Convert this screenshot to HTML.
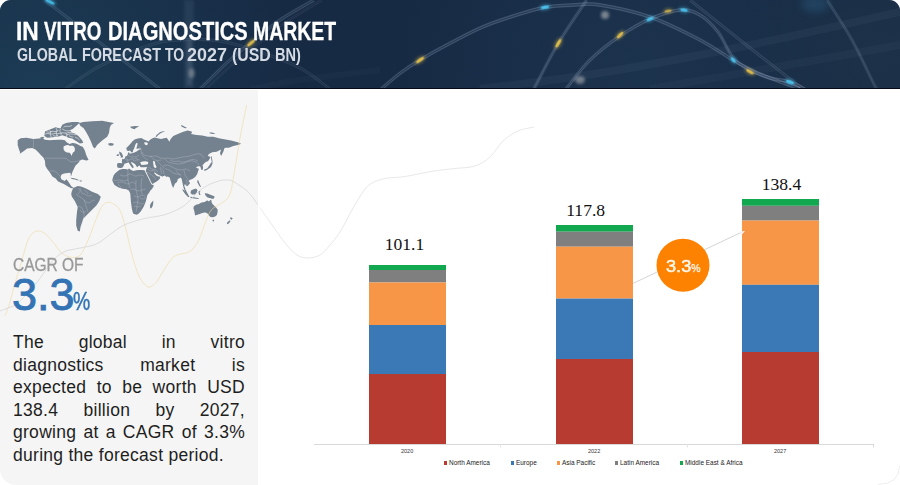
<!DOCTYPE html>
<html><head><meta charset="utf-8">
<style>
*{margin:0;padding:0;box-sizing:border-box}
html,body{width:900px;height:485px;overflow:hidden;background:#fff;font-family:"Liberation Sans",sans-serif}
.abs{position:absolute}
#hdr{position:absolute;left:0;top:0;width:900px;height:89px;border-radius:11px 11px 0 0;overflow:hidden;background:#172a44}
#hdr .bl{position:absolute;left:0;bottom:0;width:900px;height:1px;background:#040a17}
.w1{position:absolute;top:17.5px;font-weight:bold;font-size:26.7px;line-height:1;color:#fff;white-space:nowrap;transform-origin:0 0;-webkit-text-stroke:0.3px #fff}
.w2{position:absolute;top:46.8px;font-weight:bold;font-size:17.6px;line-height:1;color:#d5dbe4;white-space:nowrap;transform-origin:0 0}
#left{position:absolute;left:0;top:90px;width:258px;height:395px;background:#f5f5f5;border-bottom-left-radius:16px;overflow:hidden}
#cagr{position:absolute;left:13px;top:254px;font-size:19px;color:#999;-webkit-text-stroke:0.35px #999;white-space:nowrap;transform-origin:0 0;transform:scaleX(0.815)}
#big{position:absolute;left:12px;top:272px;font-size:45px;color:#3474b4;-webkit-text-stroke:0.9px #3474b4;white-space:nowrap;line-height:1}
#pct{position:absolute;left:73px;top:288.8px;font-size:25.5px;color:#3474b4;-webkit-text-stroke:0.5px #3474b4;line-height:1;transform-origin:0 0;transform:scaleX(0.76)}
#para{position:absolute;left:13px;top:331.1px;width:232px;font-size:17.5px;line-height:22.5px;color:#1e1e1e;letter-spacing:0.28px}
#para div{text-align:justify;text-align-last:justify;white-space:nowrap}
#para div.last{text-align:left;text-align-last:left}
.bar{position:absolute;width:77px}
.val{position:absolute;font-family:"Liberation Serif",serif;font-size:17.6px;color:#111;white-space:nowrap}
.cat{position:absolute;font-size:5.5px;color:#333;top:448px}
.leg{position:absolute;top:459px;font-size:6.45px;color:#222;white-space:nowrap}
.leg i{display:inline-block;width:3px;height:3.2px;margin-right:2px;vertical-align:0.5px}
</style></head><body>
<div id="hdr">
<svg class="abs" style="left:0;top:0" width="900" height="89" viewBox="0 0 900 89">
<defs>
<radialGradient id="g1" gradientUnits="userSpaceOnUse" cx="40" cy="95" r="260"><stop offset="0" stop-color="#1d3d56" stop-opacity="0.95"/><stop offset="1" stop-color="#1d3d56" stop-opacity="0"/></radialGradient><radialGradient id="g2" gradientUnits="userSpaceOnUse" cx="640" cy="70" r="240"><stop offset="0" stop-color="#213c58" stop-opacity="0.5"/><stop offset="1" stop-color="#213c58" stop-opacity="0"/></radialGradient><radialGradient id="g3" gradientUnits="userSpaceOnUse" cx="880" cy="50" r="140"><stop offset="0" stop-color="#1e3349" stop-opacity="0.9"/><stop offset="1" stop-color="#1e3349" stop-opacity="0"/></radialGradient>
<filter id="bl1" x="-1" y="-1" width="3" height="3"><feGaussianBlur stdDeviation="0.7"/></filter><filter id="bl2" x="-1" y="-1" width="3" height="3"><feGaussianBlur stdDeviation="1.5"/></filter><filter id="bl4" x="-1" y="-1" width="3" height="3"><feGaussianBlur stdDeviation="4"/></filter>
</defs>
<rect x="0" y="0" width="900" height="89" fill="url(#g1)"/><rect x="0" y="0" width="900" height="89" fill="url(#g2)"/><rect x="0" y="0" width="900" height="89" fill="url(#g3)"/>
<g fill="none">
<path d="M480.0 89.0 C500.0 86.3 555.0 80.3 600.0 73.0 C645.0 65.7 700.0 55.2 750.0 45.0 C800.0 34.8 875.0 17.5 900.0 12.0" stroke="#a9bdd8" stroke-opacity="0.05" stroke-width="8.0"/>
<path d="M650.0 89.0 C668.3 85.8 718.3 77.3 760.0 70.0 C801.7 62.7 876.7 49.2 900.0 45.0" stroke="#a9bdd8" stroke-opacity="0.04" stroke-width="8.0"/>
<path d="M250.0 89.0 C258.3 87.5 278.3 83.2 300.0 80.0 C321.7 76.8 366.7 71.7 380.0 70.0" stroke="#a9bdd8" stroke-opacity="0.03" stroke-width="6.0"/>
<path d="M44.5 0.0 C53.8 7.1 80.8 27.9 100.0 42.7 C119.2 57.5 150.0 81.3 160.0 89.0" stroke="#a9bdd8" stroke-opacity="0.08" stroke-width="3.6"/>
<path d="M44.5 0.0 C53.8 7.1 80.8 27.9 100.0 42.7 C119.2 57.5 150.0 81.3 160.0 89.0" stroke="#a9bdd8" stroke-opacity="0.22" stroke-width="0.6" transform="translate(0,-1.2)"/>
<path d="M44.5 0.0 C53.8 7.1 80.8 27.9 100.0 42.7 C119.2 57.5 150.0 81.3 160.0 89.0" stroke="#a9bdd8" stroke-opacity="0.22" stroke-width="0.6" transform="translate(0,1.2)"/>
<path d="M200.0 89.0 C205.0 84.2 221.3 67.8 230.0 60.0 C238.7 52.2 243.7 48.7 252.0 42.0 C260.3 35.3 269.7 27.0 280.0 20.0 C290.3 13.0 308.3 3.3 314.0 0.0" stroke="#a9bdd8" stroke-opacity="0.09" stroke-width="4.0"/>
<path d="M200.0 89.0 C205.0 84.2 221.3 67.8 230.0 60.0 C238.7 52.2 243.7 48.7 252.0 42.0 C260.3 35.3 269.7 27.0 280.0 20.0 C290.3 13.0 308.3 3.3 314.0 0.0" stroke="#a9bdd8" stroke-opacity="0.24" stroke-width="0.7" transform="translate(0,-1.2)"/>
<path d="M200.0 89.0 C205.0 84.2 221.3 67.8 230.0 60.0 C238.7 52.2 243.7 48.7 252.0 42.0 C260.3 35.3 269.7 27.0 280.0 20.0 C290.3 13.0 308.3 3.3 314.0 0.0" stroke="#a9bdd8" stroke-opacity="0.24" stroke-width="0.7" transform="translate(0,1.2)"/>
<path d="M206.0 89.0 C211.0 84.3 227.3 68.5 236.0 61.0 C244.7 53.5 249.7 50.5 258.0 44.0 C266.3 37.5 275.3 29.3 286.0 22.0 C296.7 14.7 316.0 3.7 322.0 0.0" stroke="#a9bdd8" stroke-opacity="0.04" stroke-width="2.8"/>
<path d="M206.0 89.0 C211.0 84.3 227.3 68.5 236.0 61.0 C244.7 53.5 249.7 50.5 258.0 44.0 C266.3 37.5 275.3 29.3 286.0 22.0 C296.7 14.7 316.0 3.7 322.0 0.0" stroke="#a9bdd8" stroke-opacity="0.12" stroke-width="0.5" transform="translate(0,-1.2)"/>
<path d="M206.0 89.0 C211.0 84.3 227.3 68.5 236.0 61.0 C244.7 53.5 249.7 50.5 258.0 44.0 C266.3 37.5 275.3 29.3 286.0 22.0 C296.7 14.7 316.0 3.7 322.0 0.0" stroke="#a9bdd8" stroke-opacity="0.12" stroke-width="0.5" transform="translate(0,1.2)"/>
<path d="M65.0 89.0 C70.8 85.2 85.8 73.3 100.0 66.0 C114.2 58.7 136.7 49.3 150.0 45.0 C163.3 40.7 168.3 40.7 180.0 40.0 C191.7 39.3 206.7 39.0 220.0 41.0 C233.3 43.0 246.7 47.5 260.0 52.0 C273.3 56.5 288.3 61.8 300.0 68.0 C311.7 74.2 325.0 85.5 330.0 89.0" stroke="#a9bdd8" stroke-opacity="0.05" stroke-width="3.2"/>
<path d="M65.0 89.0 C70.8 85.2 85.8 73.3 100.0 66.0 C114.2 58.7 136.7 49.3 150.0 45.0 C163.3 40.7 168.3 40.7 180.0 40.0 C191.7 39.3 206.7 39.0 220.0 41.0 C233.3 43.0 246.7 47.5 260.0 52.0 C273.3 56.5 288.3 61.8 300.0 68.0 C311.7 74.2 325.0 85.5 330.0 89.0" stroke="#a9bdd8" stroke-opacity="0.14" stroke-width="0.6" transform="translate(0,-1.2)"/>
<path d="M65.0 89.0 C70.8 85.2 85.8 73.3 100.0 66.0 C114.2 58.7 136.7 49.3 150.0 45.0 C163.3 40.7 168.3 40.7 180.0 40.0 C191.7 39.3 206.7 39.0 220.0 41.0 C233.3 43.0 246.7 47.5 260.0 52.0 C273.3 56.5 288.3 61.8 300.0 68.0 C311.7 74.2 325.0 85.5 330.0 89.0" stroke="#a9bdd8" stroke-opacity="0.14" stroke-width="0.6" transform="translate(0,1.2)"/>
<path d="M380.0 90.0 C383.3 87.2 393.3 78.3 400.0 73.3 C406.7 68.3 411.7 65.0 420.0 60.0 C428.3 55.0 439.4 48.8 450.0 43.3 C460.6 37.8 472.2 31.4 483.3 26.7 C494.4 22.0 506.4 18.2 516.7 15.0 C527.0 11.8 535.6 9.0 545.0 7.3 C554.4 5.6 564.1 5.4 573.3 5.0 C582.5 4.6 587.2 3.0 600.0 5.0 C612.8 7.0 633.3 11.2 650.0 17.0 C666.7 22.8 686.2 32.8 700.0 40.0 C713.8 47.2 723.0 54.3 733.0 60.0 C743.0 65.7 748.8 69.2 760.0 74.0 C771.2 78.8 793.3 86.5 800.0 89.0" stroke="#a9bdd8" stroke-opacity="0.11" stroke-width="4.0"/>
<path d="M380.0 90.0 C383.3 87.2 393.3 78.3 400.0 73.3 C406.7 68.3 411.7 65.0 420.0 60.0 C428.3 55.0 439.4 48.8 450.0 43.3 C460.6 37.8 472.2 31.4 483.3 26.7 C494.4 22.0 506.4 18.2 516.7 15.0 C527.0 11.8 535.6 9.0 545.0 7.3 C554.4 5.6 564.1 5.4 573.3 5.0 C582.5 4.6 587.2 3.0 600.0 5.0 C612.8 7.0 633.3 11.2 650.0 17.0 C666.7 22.8 686.2 32.8 700.0 40.0 C713.8 47.2 723.0 54.3 733.0 60.0 C743.0 65.7 748.8 69.2 760.0 74.0 C771.2 78.8 793.3 86.5 800.0 89.0" stroke="#a9bdd8" stroke-opacity="0.30" stroke-width="0.7" transform="translate(0,-1.2)"/>
<path d="M380.0 90.0 C383.3 87.2 393.3 78.3 400.0 73.3 C406.7 68.3 411.7 65.0 420.0 60.0 C428.3 55.0 439.4 48.8 450.0 43.3 C460.6 37.8 472.2 31.4 483.3 26.7 C494.4 22.0 506.4 18.2 516.7 15.0 C527.0 11.8 535.6 9.0 545.0 7.3 C554.4 5.6 564.1 5.4 573.3 5.0 C582.5 4.6 587.2 3.0 600.0 5.0 C612.8 7.0 633.3 11.2 650.0 17.0 C666.7 22.8 686.2 32.8 700.0 40.0 C713.8 47.2 723.0 54.3 733.0 60.0 C743.0 65.7 748.8 69.2 760.0 74.0 C771.2 78.8 793.3 86.5 800.0 89.0" stroke="#a9bdd8" stroke-opacity="0.30" stroke-width="0.7" transform="translate(0,1.2)"/>
<path d="M533.3 90.0 C537.5 82.2 549.4 58.3 558.3 43.3 C567.2 28.3 582.0 7.2 586.7 0.0" stroke="#a9bdd8" stroke-opacity="0.10" stroke-width="4.0"/>
<path d="M533.3 90.0 C537.5 82.2 549.4 58.3 558.3 43.3 C567.2 28.3 582.0 7.2 586.7 0.0" stroke="#a9bdd8" stroke-opacity="0.28" stroke-width="0.7" transform="translate(0,-1.2)"/>
<path d="M533.3 90.0 C537.5 82.2 549.4 58.3 558.3 43.3 C567.2 28.3 582.0 7.2 586.7 0.0" stroke="#a9bdd8" stroke-opacity="0.28" stroke-width="0.7" transform="translate(0,1.2)"/>
<path d="M566.0 89.0 C570.0 84.2 581.0 68.8 590.0 60.0 C599.0 51.2 610.0 42.8 620.0 36.0 C630.0 29.2 640.0 23.3 650.0 19.0 C660.0 14.7 671.7 10.7 680.0 10.0 C688.3 9.3 693.7 11.3 700.0 15.0 C706.3 18.7 712.5 24.8 718.0 32.0 C723.5 39.2 728.0 51.7 733.3 58.0 C738.6 64.3 743.9 66.7 750.0 70.0 C756.1 73.3 763.3 76.0 770.0 78.0 C776.7 80.0 784.2 80.2 790.0 82.0 C795.8 83.8 802.5 87.8 805.0 89.0" stroke="#a9bdd8" stroke-opacity="0.11" stroke-width="4.0"/>
<path d="M566.0 89.0 C570.0 84.2 581.0 68.8 590.0 60.0 C599.0 51.2 610.0 42.8 620.0 36.0 C630.0 29.2 640.0 23.3 650.0 19.0 C660.0 14.7 671.7 10.7 680.0 10.0 C688.3 9.3 693.7 11.3 700.0 15.0 C706.3 18.7 712.5 24.8 718.0 32.0 C723.5 39.2 728.0 51.7 733.3 58.0 C738.6 64.3 743.9 66.7 750.0 70.0 C756.1 73.3 763.3 76.0 770.0 78.0 C776.7 80.0 784.2 80.2 790.0 82.0 C795.8 83.8 802.5 87.8 805.0 89.0" stroke="#a9bdd8" stroke-opacity="0.30" stroke-width="0.7" transform="translate(0,-1.2)"/>
<path d="M566.0 89.0 C570.0 84.2 581.0 68.8 590.0 60.0 C599.0 51.2 610.0 42.8 620.0 36.0 C630.0 29.2 640.0 23.3 650.0 19.0 C660.0 14.7 671.7 10.7 680.0 10.0 C688.3 9.3 693.7 11.3 700.0 15.0 C706.3 18.7 712.5 24.8 718.0 32.0 C723.5 39.2 728.0 51.7 733.3 58.0 C738.6 64.3 743.9 66.7 750.0 70.0 C756.1 73.3 763.3 76.0 770.0 78.0 C776.7 80.0 784.2 80.2 790.0 82.0 C795.8 83.8 802.5 87.8 805.0 89.0" stroke="#a9bdd8" stroke-opacity="0.30" stroke-width="0.7" transform="translate(0,1.2)"/>
<path d="M690.0 0.0 C698.3 6.7 721.7 25.5 740.0 40.0 C758.3 54.5 789.5 78.5 800.0 86.7 C810.5 94.9 802.5 88.6 803.0 89.0" stroke="#a9bdd8" stroke-opacity="0.07" stroke-width="3.6"/>
<path d="M690.0 0.0 C698.3 6.7 721.7 25.5 740.0 40.0 C758.3 54.5 789.5 78.5 800.0 86.7 C810.5 94.9 802.5 88.6 803.0 89.0" stroke="#a9bdd8" stroke-opacity="0.20" stroke-width="0.6" transform="translate(0,-1.2)"/>
<path d="M690.0 0.0 C698.3 6.7 721.7 25.5 740.0 40.0 C758.3 54.5 789.5 78.5 800.0 86.7 C810.5 94.9 802.5 88.6 803.0 89.0" stroke="#a9bdd8" stroke-opacity="0.20" stroke-width="0.6" transform="translate(0,1.2)"/>
<path d="M827.0 0.0 C831.2 6.7 844.2 26.1 852.0 40.0 C859.8 53.9 869.3 75.1 873.5 83.3 C877.7 91.5 876.4 88.0 877.0 89.0" stroke="#a9bdd8" stroke-opacity="0.09" stroke-width="3.6"/>
<path d="M827.0 0.0 C831.2 6.7 844.2 26.1 852.0 40.0 C859.8 53.9 869.3 75.1 873.5 83.3 C877.7 91.5 876.4 88.0 877.0 89.0" stroke="#a9bdd8" stroke-opacity="0.24" stroke-width="0.6" transform="translate(0,-1.2)"/>
<path d="M827.0 0.0 C831.2 6.7 844.2 26.1 852.0 40.0 C859.8 53.9 869.3 75.1 873.5 83.3 C877.7 91.5 876.4 88.0 877.0 89.0" stroke="#a9bdd8" stroke-opacity="0.24" stroke-width="0.6" transform="translate(0,1.2)"/>
<ellipse cx="50.0" cy="1.7" rx="7.0" ry="3" fill="#48c8f4" opacity="0.36" transform="rotate(25 50.0 1.7)" filter="url(#bl2)"/>
<ellipse cx="50.0" cy="1.7" rx="5.0" ry="1.5" fill="#48c8f4" opacity="0.80" transform="rotate(25 50.0 1.7)" filter="url(#bl1)"/>
<ellipse cx="251.0" cy="43.0" rx="6.5" ry="3" fill="#f0c848" opacity="0.36" transform="rotate(-40 251.0 43.0)" filter="url(#bl2)"/>
<ellipse cx="251.0" cy="43.0" rx="4.5" ry="1.5" fill="#f0c848" opacity="0.80" transform="rotate(-40 251.0 43.0)" filter="url(#bl1)"/>
<ellipse cx="420.0" cy="60.0" rx="6.5" ry="3" fill="#f0c848" opacity="0.38" transform="rotate(-35 420.0 60.0)" filter="url(#bl2)"/>
<ellipse cx="420.0" cy="60.0" rx="4.5" ry="1.5" fill="#f0c848" opacity="0.85" transform="rotate(-35 420.0 60.0)" filter="url(#bl1)"/>
<ellipse cx="545.0" cy="7.3" rx="6.0" ry="3" fill="#48c8f4" opacity="0.41" transform="rotate(-10 545.0 7.3)" filter="url(#bl2)"/>
<ellipse cx="545.0" cy="7.3" rx="4.0" ry="1.5" fill="#48c8f4" opacity="0.90" transform="rotate(-10 545.0 7.3)" filter="url(#bl1)"/>
<ellipse cx="558.3" cy="43.3" rx="6.5" ry="3" fill="#f0c848" opacity="0.38" transform="rotate(-60 558.3 43.3)" filter="url(#bl2)"/>
<ellipse cx="558.3" cy="43.3" rx="4.5" ry="1.5" fill="#f0c848" opacity="0.85" transform="rotate(-60 558.3 43.3)" filter="url(#bl1)"/>
<ellipse cx="620.0" cy="35.0" rx="6.0" ry="3" fill="#f0c848" opacity="0.38" transform="rotate(-45 620.0 35.0)" filter="url(#bl2)"/>
<ellipse cx="620.0" cy="35.0" rx="4.0" ry="1.5" fill="#f0c848" opacity="0.85" transform="rotate(-45 620.0 35.0)" filter="url(#bl1)"/>
<ellipse cx="650.0" cy="19.0" rx="5.5" ry="3" fill="#48c8f4" opacity="0.38" transform="rotate(-25 650.0 19.0)" filter="url(#bl2)"/>
<ellipse cx="650.0" cy="19.0" rx="3.5" ry="1.5" fill="#48c8f4" opacity="0.85" transform="rotate(-25 650.0 19.0)" filter="url(#bl1)"/>
<ellipse cx="684.0" cy="10.0" rx="5.5" ry="3" fill="#48c8f4" opacity="0.38" transform="rotate(10 684.0 10.0)" filter="url(#bl2)"/>
<ellipse cx="684.0" cy="10.0" rx="3.5" ry="1.5" fill="#48c8f4" opacity="0.85" transform="rotate(10 684.0 10.0)" filter="url(#bl1)"/>
<ellipse cx="668.0" cy="11.0" rx="5.5" ry="3" fill="#f0c848" opacity="0.27" transform="rotate(-10 668.0 11.0)" filter="url(#bl2)"/>
<ellipse cx="668.0" cy="11.0" rx="3.5" ry="1.5" fill="#f0c848" opacity="0.60" transform="rotate(-10 668.0 11.0)" filter="url(#bl1)"/>
<ellipse cx="733.3" cy="60.0" rx="5.0" ry="3" fill="#48c8f4" opacity="0.38" transform="rotate(50 733.3 60.0)" filter="url(#bl2)"/>
<ellipse cx="733.3" cy="60.0" rx="3.0" ry="1.5" fill="#48c8f4" opacity="0.85" transform="rotate(50 733.3 60.0)" filter="url(#bl1)"/>
<ellipse cx="750.0" cy="71.7" rx="6.0" ry="3" fill="#f0c848" opacity="0.36" transform="rotate(30 750.0 71.7)" filter="url(#bl2)"/>
<ellipse cx="750.0" cy="71.7" rx="4.0" ry="1.5" fill="#f0c848" opacity="0.80" transform="rotate(30 750.0 71.7)" filter="url(#bl1)"/>
<ellipse cx="790.0" cy="82.0" rx="6.0" ry="3" fill="#48c8f4" opacity="0.41" transform="rotate(20 790.0 82.0)" filter="url(#bl2)"/>
<ellipse cx="790.0" cy="82.0" rx="4.0" ry="1.5" fill="#48c8f4" opacity="0.90" transform="rotate(20 790.0 82.0)" filter="url(#bl1)"/>
<ellipse cx="605" cy="15" rx="4" ry="4" fill="#eae6e0" opacity="0.45" filter="url(#bl2)"/>
<ellipse cx="580" cy="80" rx="5" ry="4" fill="#eae6e0" opacity="0.4" filter="url(#bl2)"/>
<ellipse cx="191.7" cy="73.3" rx="3" ry="5" fill="#dcdcd0" opacity="0.35" filter="url(#bl2)"/>
<rect x="184" y="0" width="10" height="89" fill="#9ab0c8" opacity="0.10" filter="url(#bl2)"/>
<rect x="187" y="40" width="5" height="45" fill="#c0ccd8" opacity="0.12" filter="url(#bl2)"/>
<ellipse cx="815" cy="4" rx="14" ry="8" fill="#3a90c0" opacity="0.22" filter="url(#bl4)"/>
</g>
</svg>
<div class="bl"></div>
<span class="w1" style="left:16.10px;transform:scaleX(0.852)">IN</span><span class="w1" style="left:44.00px;transform:scaleX(0.705)">VITRO</span><span class="w1" style="left:107.70px;transform:scaleX(0.754)">DIAGNOSTICS</span><span class="w1" style="left:253.20px;transform:scaleX(0.729)">MARKET</span>
<span class="w2" style="left:17.30px;transform:scaleX(0.810)">GLOBAL</span><span class="w2" style="left:82.20px;transform:scaleX(0.816)">FORECAST</span><span class="w2" style="left:164.60px;transform:scaleX(0.790)">TO</span><span class="w2" style="left:187.40px;transform:scaleX(1.020)">2027</span><span class="w2" style="left:231.50px;transform:scaleX(0.902)">(USD</span><span class="w2" style="left:274.90px;transform:scaleX(0.830)">BN)</span>
</div>
<div id="left">
<svg class="abs" style="left:0;top:-90px" width="258" height="485" viewBox="0 0 258 485">
<path d="M17.7 140.3 L20.6 138.2 L26.4 137.8 L33.4 139.0 L38.8 138.6 L42.9 138.3 L45.0 139.7 L49.9 140.3 L56.1 139.7 L61.0 139.3 L64.8 140.3 L67.2 142.8 L69.7 144.0 L72.2 143.0 L75.0 143.2 L78.0 144.6 L80.5 146.0 L82.6 146.8 L83.8 148.5 L85.0 151.0 L86.2 155.0 L88.6 159.9 L86.0 160.5 L84.5 159.9 L82.0 159.5 L80.0 160.5 L78.7 162.4 L75.4 165.7 L73.8 169.0 L72.6 171.4 L71.3 175.6 L70.9 176.4 L70.5 172.7 L68.0 173.1 L63.9 173.5 L61.4 174.7 L60.6 177.2 L61.4 179.3 L64.7 180.9 L66.4 179.3 L68.0 181.3 L69.7 183.8 L71.3 186.3 L73.8 187.9 L71.3 188.2 L68.0 186.6 L63.9 184.0 L58.1 181.5 L55.7 178.6 L52.4 176.6 L49.9 172.5 L47.4 169.2 L45.4 165.9 L44.9 160.7 L43.3 157.4 L41.2 155.5 L38.8 152.7 L35.5 149.4 L32.2 148.1 L27.2 148.5 L23.9 151.0 L21.0 153.0 L19.5 153.8 L20.2 152.5 L19.0 149.4 L17.7 145.2ZM79.0 123.3 L83.0 122.0 L92.4 121.3 L102.2 120.7 L108.4 121.9 L114.0 123.1 L110.9 125.0 L109.7 128.1 L109.0 133.0 L107.2 136.7 L102.2 140.4 L97.3 144.8 L94.8 148.5 L93.1 146.9 L90.6 140.7 L88.2 135.8 L85.8 131.5 L83.5 128.0 L80.5 126.0ZM108.2 143.6 L111.0 142.9 L114.0 143.8 L113.0 145.6 L110.0 145.8 L108.6 145.0ZM73.3 188.1 L77.7 185.9 L81.0 186.5 L84.9 188.1 L88.5 189.8 L92.1 191.7 L97.9 193.9 L100.8 196.8 L99.3 201.1 L96.4 205.4 L92.1 209.8 L87.8 214.1 L83.4 218.4 L82.0 222.8 L80.5 227.1 L79.8 231.4 L77.7 230.7 L76.2 225.6 L76.2 219.9 L76.9 212.7 L77.7 206.9 L74.8 201.1 L71.9 196.8 L71.2 193.9 L71.9 191.0ZM70.2 177.8 L73.0 177.9 L76.0 178.7 L79.0 180.0 L78.0 180.6 L75.0 179.6 L72.0 179.0ZM79.5 180.5 L82.0 180.6 L81.5 181.6 L79.8 181.4ZM126.3 147.9 L127.4 146.9 L130.5 143.8 L132.5 141.2 L134.6 139.4 L137.7 138.4 L141.3 138.1 L143.9 139.6 L147.0 140.7 L148.5 141.5 L149.8 139.9 L152.0 138.5 L154.7 137.4 L157.5 138.2 L161.1 138.9 L164.0 138.2 L166.7 137.8 L168.3 140.0 L169.4 141.7 L170.6 138.9 L173.3 136.1 L177.8 133.9 L183.3 131.7 L187.8 130.6 L192.2 131.7 L191.1 133.9 L196.7 135.0 L202.2 135.6 L207.8 136.7 L213.3 136.7 L218.9 138.3 L225.6 139.4 L231.1 140.6 L237.8 142.2 L241.1 143.7 L239.5 144.5 L237.8 145.0 L233.3 146.1 L228.9 147.8 L225.6 147.8 L224.4 148.3 L223.3 151.7 L221.1 156.1 L220.0 153.3 L221.1 149.4 L216.7 151.7 L212.2 152.2 L208.9 153.9 L207.8 156.1 L209.6 156.5 L210.5 157.6 L208.2 160.9 L205.4 162.3 L202.6 165.0 L203.1 167.8 L202.6 170.1 L201.2 169.7 L200.5 167.0 L199.8 166.2 L197.1 166.6 L196.1 167.8 L198.9 168.8 L198.0 171.5 L197.1 174.3 L195.2 177.1 L192.4 179.0 L189.6 179.9 L188.7 181.3 L190.2 183.1 L188.5 185.0 L187.3 186.3 L185.8 185.5 L185.0 184.0 L184.2 185.5 L185.5 189.5 L187.3 193.0 L188.6 195.2 L187.6 195.4 L185.5 192.0 L183.8 188.5 L183.0 185.5 L182.3 182.0 L181.6 178.8 L180.5 177.6 L179.4 178.2 L177.9 178.9 L177.0 181.9 L175.0 183.5 L173.2 188.1 L171.8 185.0 L170.6 180.8 L169.6 177.6 L167.8 176.4 L166.5 177.0 L164.9 175.5 L162.5 176.6 L161.5 176.3 L160.0 175.6 L158.5 174.9 L157.0 173.9 L155.5 172.9 L154.2 172.2 L154.5 173.6 L155.8 174.9 L157.0 175.9 L158.5 176.6 L159.8 176.6 L160.2 177.8 L159.2 179.5 L157.0 181.2 L154.5 182.8 L152.4 184.0 L151.2 182.3 L150.0 179.6 L148.6 176.8 L147.4 174.2 L146.5 172.2 L145.8 171.3 L146.2 169.5 L146.8 167.8 L147.3 167.0 L144.0 167.3 L140.7 167.3 L140.1 166.4 L139.6 165.5 L138.4 166.0 L137.3 167.2 L136.2 166.0 L135.4 164.5 L134.2 163.5 L131.0 161.8 L131.5 163.5 L133.0 165.5 L133.8 167.2 L132.6 168.2 L131.2 166.5 L129.8 164.5 L128.8 162.5 L127.5 162.8 L126.2 163.2 L124.6 163.4 L124.2 164.6 L123.2 166.5 L122.6 167.6 L121.0 167.9 L119.6 167.9 L117.5 167.6 L117.1 166.0 L117.1 164.5 L117.4 163.2 L119.5 163.0 L122.3 163.2 L121.8 161.4 L122.3 158.7 L123.6 159.3 L124.8 158.2 L125.3 156.6 L126.4 156.2 L127.6 155.0 L127.9 153.5 L128.3 152.2 L129.2 152.4 L129.4 153.6 L131.0 153.4 L133.0 153.0 L135.0 152.3 L136.6 151.5 L138.2 150.3 L139.7 149.4 L141.8 148.9 L139.7 148.6 L138.0 148.5 L136.6 148.9 L136.6 147.4 L137.2 145.8 L137.7 143.5 L137.0 142.8 L136.0 143.6 L135.1 145.3 L134.1 148.4 L133.0 150.5 L132.8 152.3 L131.5 152.5 L130.0 150.5 L128.4 151.0 L126.9 150.5ZM119.1 151.5 L121.2 152.5 L122.2 154.0 L122.7 155.6 L123.2 157.2 L121.8 157.6 L120.7 157.7 L120.9 156.3 L119.6 154.6 L119.3 153.0ZM117.1 154.6 L118.6 154.1 L118.8 155.2 L118.6 156.1 L116.8 156.1 L116.6 155.3ZM112.9 177.4 L113.8 175.0 L115.5 173.0 L117.3 171.4 L119.6 169.8 L122.3 168.9 L125.1 168.9 L127.9 169.4 L129.0 168.4 L130.7 169.8 L133.4 170.9 L136.2 170.3 L139.0 169.9 L142.9 169.9 L144.8 170.4 L145.5 172.5 L146.8 175.0 L148.0 177.3 L149.3 180.0 L150.5 182.5 L151.6 184.5 L153.8 185.3 L153.3 187.0 L151.5 189.5 L150.4 190.5 L149.0 193.0 L147.5 194.8 L146.8 197.5 L146.1 200.5 L145.0 203.5 L143.9 206.3 L142.0 209.5 L140.3 212.1 L138.5 213.8 L136.7 214.7 L135.0 214.3 L133.1 213.5 L132.3 210.5 L131.7 207.8 L131.3 204.5 L130.9 202.0 L130.6 197.5 L130.2 193.3 L128.8 190.4 L126.5 189.3 L124.4 189.0 L121.5 188.5 L118.7 187.5 L116.5 186.3 L114.3 184.7 L113.2 182.5 L112.2 180.3ZM151.9 202.0 L153.3 200.5 L153.2 203.5 L152.6 206.3 L151.5 208.0 L150.4 208.5 L150.0 206.5 L150.1 204.9 L150.8 203.5ZM182.3 188.9 L184.5 190.5 L187.5 194.0 L189.5 196.8 L188.3 197.2 L185.5 194.5 L183.0 191.0ZM190.2 196.8 L194.0 197.3 L198.9 198.3 L198.5 199.0 L194.0 198.5 L190.5 197.8ZM191.0 190.5 L193.0 189.5 L196.0 188.5 L197.5 190.0 L196.7 192.5 L195.0 194.5 L192.0 194.5 L190.5 193.0ZM198.5 191.0 L200.5 190.8 L199.6 192.5 L200.6 194.8 L199.2 195.0 L198.6 193.0ZM197.4 180.2 L198.5 181.0 L199.5 183.5 L201.0 186.7 L200.0 187.0 L198.5 184.5 L197.2 182.0ZM204.7 193.2 L207.5 193.4 L210.4 194.7 L213.0 195.8 L214.8 196.8 L213.3 199.0 L210.5 198.2 L207.5 197.5 L205.5 195.5ZM212.8 162.7 L211.0 166.9 L207.3 169.7 L204.5 171.1 L204.0 169.7 L207.3 168.3 L209.6 165.0 L211.4 162.3ZM210.8 155.8 L211.8 157.0 L212.6 162.0 L211.9 162.5 L211.2 159.0ZM197.8 180.2 L198.6 180.8 L198.0 182.0ZM193.8 206.2 L196.0 204.8 L198.9 204.0 L201.5 202.5 L204.7 201.9 L206.5 200.8 L207.5 200.4 L209.0 201.5 L210.0 200.2 L211.2 199.7 L211.9 203.3 L213.5 205.0 L214.8 206.2 L216.5 208.0 L217.7 209.8 L217.6 212.0 L216.9 214.9 L215.5 216.3 L214.0 217.0 L212.0 217.2 L210.4 217.0 L208.6 215.0 L207.5 213.4 L205.5 212.6 L203.2 212.7 L201.0 213.5 L198.9 214.2 L196.5 215.0 L195.3 215.6 L194.8 214.0 L194.5 212.0 L194.0 210.0 L193.4 208.4ZM212.5 219.8 L214.2 219.8 L213.8 221.5 L212.8 221.5ZM230.6 217.0 L232.8 218.5 L231.5 219.8 L230.2 219.0ZM229.9 220.3 L230.5 221.2 L228.5 223.8 L227.2 224.3 L227.0 222.8 L228.5 221.3ZM130.0 126.8 L135.0 126.0 L139.3 126.2 L136.0 128.0 L134.4 129.3 L131.5 128.2ZM155.6 136.7 L156.5 135.0 L157.8 133.9 L159.5 132.5 L161.1 131.7 L165.0 131.1 L163.5 132.0 L161.5 132.8 L159.5 134.0 L157.5 135.8 L156.5 137.0ZM180.9 125.0 L183.0 125.7 L187.1 128.1 L185.0 128.3 L181.5 126.5ZM209.4 132.4 L212.0 132.6 L215.6 133.6 L213.0 134.0 L210.0 133.5ZM44.3 136.0 L45.0 131.6 L49.3 129.8 L55.5 127.3 L60.4 128.5 L62.3 124.8 L66.0 123.0 L72.2 122.0 L77.5 122.0 L79.8 122.5 L77.5 124.8 L74.7 127.3 L72.8 129.1 L70.0 130.5 L72.0 132.5 L74.7 133.5 L78.4 136.0 L82.1 140.3 L83.3 142.8 L80.0 143.4 L75.9 140.9 L72.2 138.4 L68.5 137.8 L66.0 136.5 L62.3 135.3 L58.6 136.6 L52.4 137.2 L47.4 137.8ZM40.0 137.5 L43.0 136.8 L44.5 138.0 L41.0 138.4ZM40.0 137.5 L43.0 136.8 L44.5 138.0 L41.0 138.4ZM40.0 137.5 L43.0 136.8 L44.5 138.0 L41.0 138.4Z" fill="#74818f"/>
<path d="M63.5 146.5 L66.0 145.2 L68.4 145.0 L70.0 146.0 L72.0 145.5 L74.0 146.5 L75.0 149.0 L74.5 151.5 L73.0 152.5 L72.3 154.0 L71.5 156.0 L70.8 154.0 L69.5 152.8 L67.0 152.5 L65.0 151.5 L63.6 149.5ZM140.1 162.2 L142.5 161.5 L145.5 161.2 L148.4 162.0 L147.8 164.3 L145.0 164.8 L141.5 165.0ZM152.9 161.0 L155.0 161.5 L155.2 164.0 L156.6 167.0 L155.8 168.3 L153.8 167.0 L153.3 164.0ZM144.0 142.5 L146.5 142.3 L148.0 143.5 L147.0 145.3 L145.0 144.8Z" fill="#f5f5f5"/>
<g fill="none" stroke="#f5f5f5" stroke-width="0.65" stroke-opacity="0.9"><path d="M44.5 134.2 C45.1 134.1 46.8 133.5 48.0 133.5 C49.2 133.5 50.8 134.2 52.0 134.2 C53.2 134.2 54.0 133.4 55.0 133.3 C56.0 133.2 56.8 133.9 58.0 133.8 C59.2 133.7 60.7 132.9 62.0 132.8 C63.3 132.7 64.8 133.3 66.0 133.2 C67.2 133.1 67.8 132.5 69.0 132.4 C70.2 132.3 72.3 132.6 73.0 132.6"/><path d="M62.0 128.8 C62.4 129.0 63.7 129.8 64.5 130.2 C65.3 130.5 66.1 130.8 67.0 130.9 C67.9 131.0 69.1 130.8 70.0 130.6 C70.9 130.4 71.7 129.8 72.5 129.5 C73.3 129.2 74.2 128.9 75.0 128.5 C75.8 128.1 76.7 127.5 77.0 127.3"/><path d="M49.5 130.3 C49.7 130.6 50.7 131.3 50.8 132.0 C50.9 132.7 50.2 133.7 50.3 134.5 C50.4 135.3 51.1 136.6 51.3 137.0"/><path d="M55.8 128.0 C56.0 128.3 56.9 129.2 57.0 130.0 C57.1 130.8 56.3 131.4 56.3 132.5 C56.3 133.6 57.1 135.8 57.2 136.5"/><path d="M60.5 129.0 C60.4 129.4 59.7 130.5 59.8 131.2 C59.9 131.9 61.0 132.3 61.2 133.0 C61.4 133.7 60.9 134.8 60.8 135.2"/><path d="M65.5 132.8 C65.8 133.1 66.8 133.9 67.0 134.6 C67.2 135.3 66.5 136.6 66.4 137.0"/><path d="M66.0 135.0 C66.4 134.9 67.7 134.4 68.5 134.2 C69.3 134.0 70.2 133.9 71.0 133.9 C71.8 133.9 72.7 134.0 73.5 134.2 C74.3 134.3 75.6 134.7 76.0 134.8"/><path d="M46.5 131.8 C46.9 131.9 48.1 132.3 49.0 132.2 C49.9 132.1 51.0 131.4 52.0 131.3 C53.0 131.2 53.9 131.7 55.0 131.6 C56.1 131.5 57.9 130.8 58.5 130.6"/><path d="M63.5 127.2 C63.9 127.0 65.1 126.3 66.0 126.2 C66.9 126.1 68.0 126.5 69.0 126.4 C70.0 126.3 71.5 125.6 72.0 125.4"/><path d="M44.0 138.8 C45.0 138.8 48.0 138.8 50.0 138.9 C52.0 139.0 53.7 139.2 56.0 139.3 C58.3 139.4 61.7 139.6 64.0 139.6 C66.3 139.6 68.2 138.9 70.0 139.2 C71.8 139.5 73.5 140.5 75.0 141.2 C76.5 141.9 78.3 143.2 79.0 143.6"/><path d="M69.0 135.5 C69.3 135.7 70.2 136.4 71.0 136.7 C71.8 136.9 73.1 136.9 73.5 137.0"/><path d="M53.0 135.5 C53.4 135.6 54.7 136.2 55.5 136.2 C56.3 136.2 57.6 135.5 58.0 135.4"/><path d="M75.0 137.2 C75.4 137.4 76.8 137.7 77.5 138.2 C78.2 138.7 79.2 139.7 79.5 140.0"/></g>
<g fill="none" stroke="#dfe3ea" stroke-opacity="0.55" stroke-width="0.45"><path d="M33.4 139.0 C33.4 140.5 33.4 146.5 33.4 148.0"/><path d="M44.5 158.2 C48.1 158.2 62.4 158.2 66.0 158.2"/><path d="M66.0 158.2 C66.3 158.5 67.2 159.4 68.0 160.0 C68.8 160.6 69.7 161.6 71.0 161.8 C72.3 162.1 74.5 161.8 76.0 161.5 C77.5 161.2 79.3 160.4 80.0 160.2"/><path d="M49.5 171.2 C50.1 171.1 51.9 170.7 53.0 170.8 C54.1 170.9 55.1 171.4 56.0 172.0 C56.9 172.6 57.9 173.8 58.6 174.5 C59.4 175.2 60.2 176.2 60.5 176.5"/><path d="M80.0 188.0 C80.3 188.8 81.2 192.0 82.0 193.0 C82.8 194.0 84.0 193.5 85.0 194.0 C86.0 194.5 86.8 195.8 88.0 196.0 C89.2 196.2 91.3 195.6 92.0 195.5"/><path d="M76.0 194.0 C76.7 194.5 78.7 196.0 80.0 197.0 C81.3 198.0 83.0 198.5 84.0 200.0 C85.0 201.5 85.3 204.0 86.0 206.0 C86.7 208.0 87.7 211.0 88.0 212.0"/><path d="M78.0 206.0 C78.7 206.3 81.0 206.7 82.0 208.0 C83.0 209.3 83.8 212.0 84.0 214.0 C84.2 216.0 83.5 218.0 83.0 220.0 C82.5 222.0 81.3 225.0 81.0 226.0"/><path d="M84.0 200.0 C84.7 200.5 86.7 202.8 88.0 203.0 C89.3 203.2 90.8 201.5 92.0 201.0 C93.2 200.5 94.5 200.2 95.0 200.0"/><path d="M120.0 175.0 C120.8 175.2 123.3 176.2 125.0 176.0 C126.7 175.8 128.3 174.0 130.0 174.0 C131.7 174.0 133.3 175.8 135.0 176.0 C136.7 176.2 138.5 175.0 140.0 175.0 C141.5 175.0 143.3 175.8 144.0 176.0"/><path d="M117.0 183.0 C117.8 182.8 120.2 181.8 122.0 182.0 C123.8 182.2 126.3 184.0 128.0 184.0 C129.7 184.0 130.7 182.0 132.0 182.0 C133.3 182.0 135.3 183.7 136.0 184.0"/><path d="M130.0 190.0 C130.7 189.8 132.7 188.8 134.0 189.0 C135.3 189.2 136.7 190.8 138.0 191.0 C139.3 191.2 140.7 190.3 142.0 190.0 C143.3 189.7 145.3 189.2 146.0 189.0"/><path d="M134.0 196.0 C134.7 196.2 136.7 197.2 138.0 197.0 C139.3 196.8 140.7 195.0 142.0 195.0 C143.3 195.0 145.3 196.7 146.0 197.0"/><path d="M133.0 203.0 C133.7 202.8 135.7 201.8 137.0 202.0 C138.3 202.2 139.8 203.8 141.0 204.0 C142.2 204.2 143.5 203.2 144.0 203.0"/><path d="M136.0 180.0 C136.0 181.7 135.7 187.0 136.0 190.0 C136.3 193.0 137.8 195.3 138.0 198.0 C138.2 200.7 137.3 203.7 137.0 206.0 C136.7 208.3 136.2 211.0 136.0 212.0"/><path d="M142.0 178.0 C141.8 179.3 141.0 183.3 141.0 186.0 C141.0 188.7 141.8 192.7 142.0 194.0"/><path d="M128.0 170.0 C128.0 171.7 127.7 177.0 128.0 180.0 C128.3 183.0 129.7 186.7 130.0 188.0"/><path d="M124.0 158.0 C124.3 158.3 125.2 159.7 126.0 160.0 C126.8 160.3 128.0 160.2 129.0 160.0 C130.0 159.8 131.2 158.8 132.0 159.0 C132.8 159.2 133.2 160.8 134.0 161.0 C134.8 161.2 136.0 160.2 137.0 160.0 C138.0 159.8 139.5 160.0 140.0 160.0"/><path d="M128.0 155.0 C128.5 155.3 130.2 156.8 131.0 157.0 C131.8 157.2 132.2 156.0 133.0 156.0 C133.8 156.0 135.0 157.2 136.0 157.0 C137.0 156.8 138.5 155.3 139.0 155.0"/><path d="M139.0 146.0 C139.3 146.7 140.5 148.5 141.0 150.0 C141.5 151.5 141.3 153.7 142.0 155.0 C142.7 156.3 144.0 157.2 145.0 158.0 C146.0 158.8 147.5 159.7 148.0 160.0"/><path d="M150.0 157.0 C151.0 156.8 154.0 155.8 156.0 156.0 C158.0 156.2 160.0 158.2 162.0 158.5 C164.0 158.8 166.2 157.9 168.0 158.0 C169.8 158.1 171.3 159.0 173.0 159.0 C174.7 159.0 176.3 158.3 178.0 158.0 C179.7 157.7 181.0 157.3 183.0 157.0 C185.0 156.7 187.8 156.5 190.0 156.0 C192.2 155.5 194.2 154.2 196.0 154.0 C197.8 153.8 199.7 153.8 201.0 154.5 C202.3 155.2 203.5 157.4 204.0 158.0"/><path d="M165.0 159.0 C165.5 159.5 166.8 161.3 168.0 162.0 C169.2 162.7 170.3 162.7 172.0 163.0 C173.7 163.3 176.0 164.0 178.0 164.0 C180.0 164.0 182.0 163.5 184.0 163.0 C186.0 162.5 188.0 161.2 190.0 161.0 C192.0 160.8 194.5 161.3 196.0 162.0 C197.5 162.7 198.5 164.5 199.0 165.0"/><path d="M157.0 161.0 C157.5 161.5 159.0 163.0 160.0 164.0 C161.0 165.0 162.0 166.2 163.0 167.0 C164.0 167.8 165.0 168.5 166.0 169.0 C167.0 169.5 167.8 169.3 169.0 170.0 C170.2 170.7 171.7 172.3 173.0 173.0 C174.3 173.7 175.7 173.7 177.0 174.0 C178.3 174.3 180.3 174.8 181.0 175.0"/><path d="M160.0 167.0 C160.5 167.5 162.3 168.8 163.0 170.0 C163.7 171.2 163.8 173.3 164.0 174.0"/><path d="M148.0 167.0 C148.7 167.3 150.7 168.5 152.0 169.0 C153.3 169.5 155.0 169.5 156.0 170.0 C157.0 170.5 157.7 171.7 158.0 172.0"/><path d="M184.0 170.0 C184.2 170.8 184.5 173.7 185.0 175.0 C185.5 176.3 186.3 176.8 187.0 178.0 C187.7 179.2 188.7 181.3 189.0 182.0"/><path d="M170.0 160.0 C170.7 160.2 172.7 161.3 174.0 161.5 C175.3 161.7 176.7 160.9 178.0 161.0 C179.3 161.1 180.7 161.9 182.0 162.0 C183.3 162.1 184.7 161.8 186.0 161.5 C187.3 161.2 188.7 160.3 190.0 160.0 C191.3 159.7 192.7 159.3 194.0 159.5 C195.3 159.7 197.3 160.8 198.0 161.0"/><path d="M152.0 158.0 C152.5 158.3 154.0 159.6 155.0 160.0 C156.0 160.4 157.0 160.5 158.0 160.5 C159.0 160.5 160.5 160.1 161.0 160.0"/><path d="M163.0 166.0 C163.5 165.8 164.8 165.0 166.0 165.0 C167.2 165.0 168.7 165.5 170.0 166.0 C171.3 166.5 172.7 167.4 174.0 168.0 C175.3 168.6 176.7 169.2 178.0 169.5 C179.3 169.8 180.7 170.1 182.0 170.0 C183.3 169.9 184.7 168.8 186.0 169.0 C187.3 169.2 189.3 170.7 190.0 171.0"/><path d="M176.0 170.0 C176.3 170.5 177.2 172.2 178.0 173.0 C178.8 173.8 180.5 174.7 181.0 175.0"/><path d="M148.0 169.0 C148.3 169.3 149.2 170.8 150.0 171.0 C150.8 171.2 152.0 170.4 153.0 170.5 C154.0 170.6 155.5 171.3 156.0 171.5"/><path d="M160.0 168.0 C160.2 168.5 160.7 170.0 161.0 171.0 C161.3 172.0 161.8 173.5 162.0 174.0"/><path d="M186.0 180.0 C186.2 180.5 187.0 182.0 187.0 183.0 C187.0 184.0 186.2 185.5 186.0 186.0"/><path d="M132.0 157.0 C132.3 157.3 133.3 158.8 134.0 159.0 C134.7 159.2 135.3 157.8 136.0 158.0 C136.7 158.2 137.7 159.7 138.0 160.0"/><path d="M126.0 158.0 C126.3 158.3 127.8 159.3 128.0 160.0 C128.2 160.7 127.2 161.7 127.0 162.0"/><path d="M142.0 152.0 C142.3 152.5 143.0 154.3 144.0 155.0 C145.0 155.7 146.7 155.8 148.0 156.0 C149.3 156.2 151.3 156.4 152.0 156.5"/><path d="M78.0 188.0 C78.3 188.5 80.0 190.0 80.0 191.0 C80.0 192.0 78.3 193.5 78.0 194.0"/><path d="M84.0 190.0 C84.5 190.3 86.3 191.3 87.0 192.0 C87.7 192.7 87.8 193.7 88.0 194.0"/><path d="M80.0 210.0 C80.3 210.3 81.0 211.7 82.0 212.0 C83.0 212.3 85.3 212.0 86.0 212.0"/><path d="M112.5 180.0 C113.1 180.1 114.8 180.5 116.0 180.5 C117.2 180.5 118.7 179.9 120.0 180.0 C121.3 180.1 122.7 181.0 124.0 181.0 C125.3 181.0 127.3 180.2 128.0 180.0"/><path d="M118.0 184.0 C118.3 184.3 119.5 185.3 120.0 186.0 C120.5 186.7 120.8 187.7 121.0 188.0"/><path d="M140.0 198.0 C140.5 198.2 142.0 199.0 143.0 199.0 C144.0 199.0 145.5 198.2 146.0 198.0"/><path d="M134.0 206.0 C134.7 206.2 136.8 207.0 138.0 207.0 C139.2 207.0 140.5 206.2 141.0 206.0"/><path d="M147.0 172.0 C147.5 172.3 149.0 173.3 150.0 174.0 C151.0 174.7 152.0 175.2 153.0 176.0 C154.0 176.8 155.5 178.5 156.0 179.0"/></g>
<g fill="none" stroke-width="0.8">
<path d="M5.0 316.0 C5.8 313.8 8.5 307.0 9.9 302.6 C11.3 298.2 11.8 294.3 13.2 289.4 C14.6 284.5 16.5 278.5 18.1 273.0 C19.7 267.5 21.4 262.0 23.0 256.5 C24.6 251.0 26.2 244.0 28.0 240.0 C29.8 236.0 31.6 234.0 33.5 232.5 C35.4 231.0 37.5 230.9 39.2 231.0 C41.0 231.1 42.4 232.0 44.0 233.0 C45.6 234.0 46.7 235.0 48.7 237.2 C50.7 239.3 53.8 243.2 55.9 245.9 C58.0 248.6 59.4 251.3 61.6 253.1 C63.8 254.9 66.8 256.2 68.9 256.9 C71.1 257.6 72.8 257.6 74.5 257.5 C76.2 257.4 77.8 256.7 79.0 256.0 C80.2 255.3 80.6 255.0 81.8 253.1 C83.0 251.2 84.8 247.5 86.2 244.4 C87.7 241.3 89.0 238.0 90.5 234.3 C92.0 230.6 93.2 226.4 95.0 222.0 C96.8 217.6 99.2 211.2 101.0 208.0 C102.8 204.8 104.0 203.9 105.5 203.0 C107.0 202.1 108.4 202.2 109.9 202.4 C111.4 202.7 112.8 203.3 114.5 204.5 C116.2 205.7 118.3 207.2 119.8 209.8 C121.3 212.4 122.3 215.9 123.5 220.0 C124.7 224.1 126.0 229.8 127.2 234.6 C128.4 239.4 129.2 244.1 130.5 249.0 C131.8 253.9 133.1 259.5 134.7 264.3 C136.3 269.1 137.9 274.3 140.0 278.0 C142.1 281.7 145.0 285.2 147.0 286.5 C149.0 287.8 150.3 286.8 152.0 286.0 C153.7 285.2 155.1 284.0 156.9 281.6 C158.7 279.2 160.9 274.8 163.0 271.5 C165.1 268.2 167.5 264.3 169.3 261.8 C171.1 259.3 172.3 257.7 174.0 256.5 C175.7 255.3 177.5 254.9 179.2 254.4 C180.9 253.9 182.3 253.9 184.0 253.5 C185.7 253.1 187.4 252.9 189.1 251.9 C190.8 250.9 192.3 249.6 194.0 247.5 C195.7 245.4 197.5 242.6 199.0 239.5 C200.5 236.4 201.8 232.3 203.0 229.0 C204.2 225.7 205.0 222.9 206.4 219.7 C207.8 216.5 209.3 212.3 211.4 209.8 C213.5 207.3 216.3 206.6 218.8 204.9 C221.3 203.2 224.4 201.6 226.2 199.9 C228.0 198.2 228.7 196.7 229.5 195.0 C230.3 193.3 230.5 193.0 231.2 190.0 C231.9 187.0 232.6 182.0 233.5 177.0 C234.4 172.0 235.3 166.5 236.4 160.0 C237.5 153.5 238.6 145.5 240.0 138.0 C241.4 130.5 243.5 120.5 244.6 115.0 C245.7 109.5 246.2 106.7 246.5 105.0" stroke="#ecd9a0" stroke-opacity="0.75" stroke-width="0.8"/>
<path d="M0.0 311.0 C1.3 310.5 5.2 309.1 8.0 308.0 C10.8 306.9 13.4 306.6 16.5 304.3 C19.6 302.0 22.8 298.2 26.4 294.4 C30.0 290.5 34.6 285.3 37.9 281.2 C41.2 277.1 43.4 273.4 46.1 269.7 C48.9 266.0 51.3 261.9 54.4 258.9 C57.5 255.9 60.9 253.3 64.5 251.6 C68.1 249.9 71.7 249.8 76.0 248.8 C80.3 247.9 86.5 247.0 90.5 245.9 C94.5 244.8 96.4 244.2 100.0 242.0 C103.6 239.8 107.9 235.9 112.0 233.0 C116.1 230.1 119.4 227.1 124.8 224.7 C130.2 222.3 138.0 220.2 144.6 218.5 C151.2 216.8 158.2 216.7 164.4 214.8 C170.6 212.9 177.2 210.0 181.7 207.3 C186.2 204.6 188.9 201.2 191.6 198.7 C194.3 196.1 195.3 194.2 198.0 192.0 C200.7 189.8 204.0 187.2 207.5 185.3 C211.0 183.5 216.0 181.8 219.1 180.9 C222.2 180.0 223.8 180.0 226.0 180.0 C228.2 180.0 229.2 179.5 232.1 180.9 C235.0 182.3 240.6 186.0 243.6 188.2 C246.6 190.4 247.3 190.8 250.0 194.0 C252.7 197.2 258.1 205.1 259.7 207.3" stroke="#d6d6d6" stroke-width="0.8"/>
</g>
</svg>
</div>
<svg class="abs" style="left:0;top:0" width="900" height="485" viewBox="0 0 900 485">
<g fill="none" stroke-width="0.8">
<path d="M259.7 207.3 C261.4 209.8 265.8 216.1 270.0 222.0 C274.2 227.9 280.5 237.5 285.0 243.0 C289.5 248.5 293.2 252.5 297.0 255.0 C300.8 257.5 304.2 258.0 308.0 258.0 C311.8 258.0 316.3 257.2 320.0 255.0 C323.7 252.8 326.7 248.8 330.0 245.0 C333.3 241.2 336.3 237.8 340.0 232.0 C343.7 226.2 348.2 216.7 352.0 210.0 C355.8 203.3 359.8 196.4 363.0 192.0 C366.2 187.6 367.3 185.8 371.0 183.6 C374.7 181.3 379.3 179.7 385.0 178.5 C390.7 177.3 396.8 177.8 405.0 176.5 C413.2 175.2 425.7 172.3 434.0 171.0 C442.3 169.7 448.2 169.3 455.0 168.5 C461.8 167.7 469.2 167.9 475.0 166.0 C480.8 164.1 485.3 161.2 490.0 157.0 C494.7 152.8 498.3 145.3 503.0 141.0 C507.7 136.7 512.8 133.3 518.0 131.0 C523.2 128.7 531.3 127.7 534.0 127.0" stroke="#e2e2e2" stroke-width="0.8"/>
</g>
</svg>
<div id="cagr">CAGR OF</div>
<div id="big">3.3</div><div id="pct">%</div>
<div id="para"><div>The global in vitro</div><div>diagnostics market is</div><div>expected to be worth USD</div><div>138.4 billion by 2027,</div><div>growing at a CAGR of 3.3%</div><div class="last">during the forecast period.</div></div>

<!-- chart -->
<svg class="abs" style="left:0;top:0" width="900" height="485" viewBox="0 0 900 485">
<line x1="314" y1="444.5" x2="873.5" y2="444.5" stroke="#d9d9d9" stroke-width="1"/>
<line x1="873.5" y1="444" x2="873.5" y2="447.5" stroke="#d9d9d9" stroke-width="1"/>
<line x1="500.5" y1="444" x2="500.5" y2="447.5" stroke="#e4e4e4" stroke-width="1"/>
<line x1="687.5" y1="444" x2="687.5" y2="447.5" stroke="#e4e4e4" stroke-width="1"/>
<!-- bar 2020 -->
<rect x="369" y="265" width="77" height="5" fill="#12a850"/>
<rect x="369" y="270" width="77" height="12.5" fill="#7f7f7f"/>
<rect x="369" y="282.5" width="77" height="42.5" fill="#f79646"/>
<rect x="369" y="325" width="77" height="49" fill="#3a78b6"/>
<rect x="369" y="374" width="77" height="70" fill="#b83b32"/>
<!-- bar 2022 -->
<rect x="556" y="225" width="77" height="6.7" fill="#12a850"/>
<rect x="556" y="231.7" width="77" height="15" fill="#7f7f7f"/>
<rect x="556" y="246.7" width="77" height="51.9" fill="#f79646"/>
<rect x="556" y="298.6" width="77" height="60.4" fill="#3a78b6"/>
<rect x="556" y="359" width="77" height="85" fill="#b83b32"/>
<!-- bar 2027 -->
<rect x="742" y="199" width="77" height="6.8" fill="#12a850"/>
<rect x="742" y="205.8" width="77" height="14.8" fill="#7f7f7f"/>
<rect x="742" y="220.6" width="77" height="64.2" fill="#f79646"/>
<rect x="742" y="284.8" width="77" height="67.2" fill="#3a78b6"/>
<rect x="742" y="352" width="77" height="92" fill="#b83b32"/>
<!-- cagr arrow -->
<line x1="633" y1="283.4" x2="741" y2="232.5" stroke="#c9c9c9" stroke-width="0.8"/>
<path d="M745 231 L739.5 231.5 L741.5 235 Z" fill="#f2f2f2"/>
<circle cx="683" cy="265.2" r="26.5" fill="#fe8201"/>
<path d="M878 484.5 Q899.5 484 899.5 466" fill="none" stroke="#eeeeee" stroke-width="1"/>
</svg>
<div id="ct" class="abs" style="left:666px;top:258px;color:#fff8ec;-webkit-text-stroke:0.45px #fff8ec;font-size:16.5px;white-space:nowrap;line-height:1;transform-origin:0 0;transform:scaleX(1.1)">3.3</div><div class="abs" style="left:691.3px;top:262.7px;color:#fff8ec;-webkit-text-stroke:0.25px #fff8ec;font-size:10.5px;line-height:1">%</div>

<div class="val" style="left:384.7px;top:234px">101.1</div>
<div class="val" style="left:566.2px;top:200px">117.8</div>
<div class="val" style="left:761.7px;top:173.6px">138.4</div>
<div class="cat" style="left:401px">2020</div>
<div class="cat" style="left:588px">2022</div>
<div class="cat" style="left:774px">2027</div>
<div class="leg" style="left:444px"><i style="background:#b83b32"></i>North America</div>
<div class="leg" style="left:511px"><i style="background:#3a78b6"></i>Europe</div>
<div class="leg" style="left:557px"><i style="background:#f79646"></i>Asia Pacific</div>
<div class="leg" style="left:615px"><i style="background:#7f7f7f"></i>Latin America</div>
<div class="leg" style="left:680px"><i style="background:#12a850"></i>Middle East &amp; Africa</div>
</body></html>
